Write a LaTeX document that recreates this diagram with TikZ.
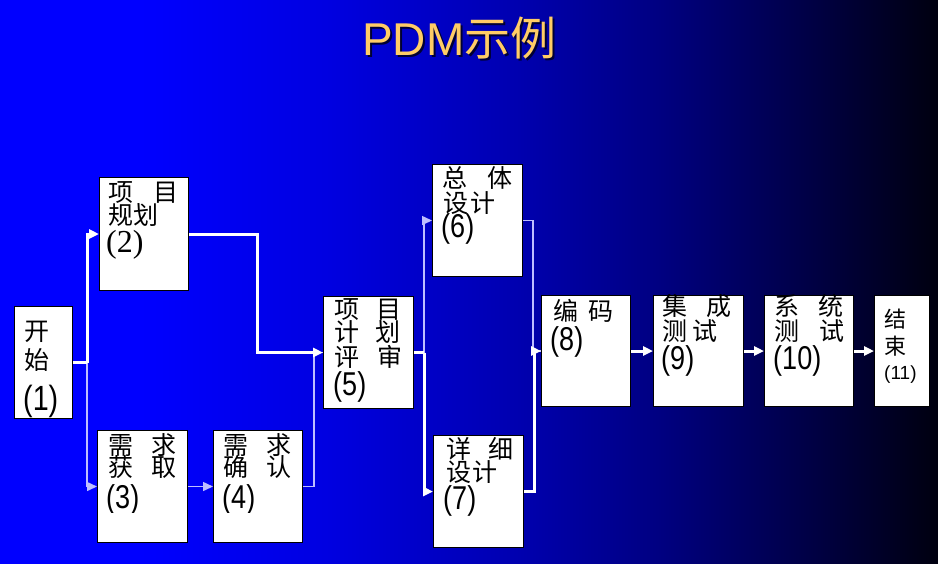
\documentclass[tikz,border=0pt]{standalone}
\usepackage{fontspec}
\usepackage{graphicx}
\setmainfont{Liberation Sans}
\newfontfamily\cjk{Noto Sans CJK SC}
\newfontfamily\tmsfont{Liberation Serif}
\usetikzlibrary{arrows.meta}
\pgfdeclarehorizontalshading{bgshade}{100bp}{rgb(0bp)=(0,0,1); rgb(25bp)=(0,0,1); rgb(32.5bp)=(0,0,1); rgb(42.5bp)=(0,0,0.88); rgb(52.5bp)=(0,0,0.69); rgb(60bp)=(0,0,0.51); rgb(67.5bp)=(0,0,0.29); rgb(75bp)=(0,0,0.06); rgb(100bp)=(0,0,0.06)}
\definecolor{titlecol}{RGB}{255,204,102}
\definecolor{thincol}{RGB}{190,190,255}
\newcommand\dg[1]{\scalebox{0.82}[1]{\fontsize{33}{33}\selectfont #1}}
\begin{document}
\begin{tikzpicture}[x=1pt,y=-1pt,
  box/.style={draw=black, fill=white, line width=1pt, inner sep=0pt, anchor=north west},
  txt/.style={anchor=base west, inner sep=0pt, text=black, font=\cjk\fontsize{25}{25}\selectfont},
  dtxt/.style={anchor=base west, inner sep=0pt, text=black},
  thickline/.style={draw=white, line width=3pt},
  thinline/.style={draw=thincol, line width=1.5pt},
  tip/.style={-{Triangle[length=10pt,width=9pt]}}
]
\useasboundingbox (0,0) rectangle (938,563);
\shade[shading=bgshade] (0,0) rectangle (938,563);
% title
\node[anchor=base west, inner sep=0pt, text=black!80!blue, font=\fontsize{46}{46}\selectfont] (titleshadow) at (364,57) {PDM{\cjk 示例}};
\node[anchor=base west, inner sep=0pt, text=titlecol, font=\fontsize{46}{46}\selectfont] (title) at (362,55) {PDM{\cjk 示例}};
% boxes
\node[box, minimum width=58pt, minimum height=112pt] (b1) at (14,306) {};
\node[box, minimum width=89pt, minimum height=113pt] (b2) at (99,177) {};
\node[box, minimum width=90pt, minimum height=112pt] (b3) at (97,430) {};
\node[box, minimum width=89pt, minimum height=112pt] (b4) at (213,430) {};
\node[box, minimum width=90pt, minimum height=112pt] (b5) at (323,296) {};
\node[box, minimum width=90pt, minimum height=112pt] (b6) at (432,164) {};
\node[box, minimum width=90pt, minimum height=112pt] (b7) at (433,435) {};
\node[box, minimum width=89pt, minimum height=111pt] (b8) at (541,295) {};
\node[box, minimum width=90pt, minimum height=111pt] (b9) at (653,295) {};
\node[box, minimum width=89pt, minimum height=111pt] (b10) at (764,295) {};
\node[box, minimum width=55pt, minimum height=111pt] (b11) at (874,295) {};
% junctions
\coordinate (j1) at ([xshift=14pt]b1.east);
\coordinate (j2) at ([xshift=68pt]b2.east);
\coordinate (j3) at ([xshift=11pt]b4.east);
\coordinate (j4) at ([xshift=10pt]b5.east);
\coordinate (j5) at ([xshift=10pt]b6.east);
\coordinate (j6) at ([xshift=10pt]b7.east);
% connectors
\draw[thinline, tip] (j1) |- (b3.west);
\draw[thinline, tip] (b3) -- (b4);
\draw[thinline] (b4.east) -- (j3) |- (b5.west);
\draw[thickline] (b1.east) -- (j1);
\draw[thickline, tip] (j1) |- (b2.west);
\draw[thickline, tip] (b2.east) -- (j2) |- (b5.west);
\draw[thinline, tip] (j4) |- (b6.west);
\draw[thinline] (b6.east) -- (j5) |- (b8.west);
\draw[thickline] (b5.east) -- (j4);
\draw[thickline, tip] (j4) |- (b7.west);
\draw[thickline, tip] (b7.east) -- (j6) |- (b8.west);
\draw[thickline, tip] (b8) -- (b9);
\draw[thickline, tip] (b9) -- (b10);
\draw[thickline, tip] (b10) -- (b11);
% box texts
\node[txt] (t1a) at (24,340.5) {开};
\node[txt] (t1b) at (24,369.5) {始};
\node[dtxt] (t1c) at (23,410) {\scalebox{0.82}[1]{\fontsize{35}{35}\selectfont (1)}};
\node[txt] (t2a) at (108,201.5) {项\hspace{20pt}目};
\node[txt] (t2b) at (108,224.5) {规划};
\node[dtxt] (t2c) at (106,252) {\tmsfont\fontsize{32}{32}\selectfont (2)};
\begin{scope}
\clip (90,425) rectangle (310,512);
\node[txt] (t3a) at (108,454.5) {需\hspace{18pt}求};
\node[txt] (t3b) at (108,476.5) {获\hspace{18pt}取};
\node[dtxt] (t3c) at (106,508.6) {\dg{(3)}};
\node[txt] (t4a) at (223,454.5) {需\hspace{18pt}求};
\node[txt] (t4b) at (223,476.5) {确\hspace{18pt}认};
\node[dtxt] (t4c) at (222,508.6) {\dg{(4)}};
\end{scope}
\node[txt] (t5a) at (334,318.5) {项\hspace{17.5pt}目};
\node[txt] (t5b) at (334,341.5) {计\hspace{16pt}划};
\node[txt] (t5c) at (334,366.5) {评\hspace{18pt}审};
\node[dtxt] (t5d) at (333,395.6) {\dg{(5)}};
\node[txt] (t6a) at (442,187.5) {总\hspace{20pt}体};
\node[txt] (t6b) at (443,212.5) {设\hspace{2pt}计};
\node[dtxt] (t6c) at (441,237.6) {\dg{(6)}};
\node[txt] (t7a) at (446,458.5) {详\hspace{17pt}细};
\node[txt] (t7b) at (446,481.5) {设\hspace{1pt}计};
\node[dtxt] (t7c) at (443,509.6) {\dg{(7)}};
\node[txt] (t8a) at (553,320.5) {编\hspace{10pt}码};
\node[dtxt] (t8b) at (550,350.6) {\dg{(8)}};
\node[txt] (t9a) at (662,315.5) {集\hspace{19pt}成};
\node[txt] (t9b) at (662,340.5) {测\hspace{5pt}试};
\node[dtxt] (t9c) at (661,369.6) {\dg{(9)}};
\node[txt] (t10a) at (774,315.5) {系\hspace{19pt}统};
\node[txt] (t10b) at (774,340.5) {测\hspace{20pt}试};
\node[dtxt] (t10c) at (773,369.6) {\dg{(10)}};
\node[txt, font=\cjk\fontsize{22}{22}\selectfont] (t11a) at (884,327.4) {结};
\node[txt, font=\cjk\fontsize{22}{22}\selectfont] (t11b) at (884,354.4) {束};
\node[dtxt, font=\fontsize{19}{19}\selectfont] (t11c) at (884,379) {(11)};
\end{tikzpicture}
\end{document}
